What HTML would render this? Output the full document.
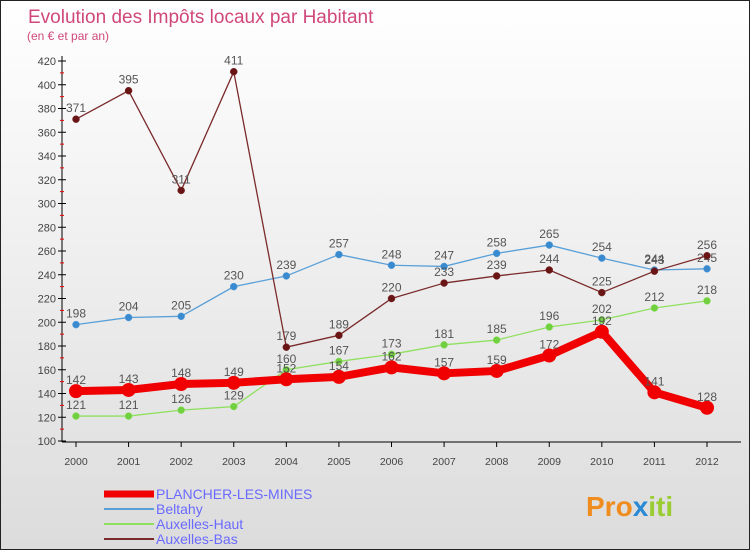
<!DOCTYPE html>
<html><head><meta charset="utf-8"><style>
body{margin:0}
#c{width:750px;height:550px;position:relative;overflow:hidden;box-sizing:border-box;border:1px solid #222;background:linear-gradient(#fff,#dcdcdc);font-family:"Liberation Sans",sans-serif}
svg{position:absolute;left:0;top:0}
</style></head><body>
<div id="c">
<svg id="s" width="750" height="550">
<text x="27" y="22" font-size="19" fill="#d0487a">Evolution des Impôts locaux par Habitant</text>
<text x="26" y="39" font-size="12" fill="#d0487a">(en € et par an)</text>
<text x="585" y="515" font-size="28" font-weight="bold" fill="#f08c1e">Pro<tspan fill="#2a8ad4">x</tspan><tspan fill="#9acd32">iti</tspan></text>
</svg>
</div>
<script>
const years=['2000','2001','2002','2003','2004','2005','2006','2007','2008','2009','2010','2011','2012'];
const yTicks=[100,120,140,160,180,200,220,240,260,280,300,320,340,360,380,400,420];
const plancher=[142,143,148,149,152,154,162,157,159,172,192,141,128];
const beltahy=[198,204,205,230,239,257,248,247,258,265,254,244,245];
const auxHaut=[121,121,126,129,160,167,173,181,185,196,202,212,218];
const auxBas=[371,395,311,411,179,189,220,233,239,244,225,243,256];
const NS='http://www.w3.org/2000/svg';
const svg=document.getElementById('s');
const X=i=>75+i*(706-75)/12;
const Y=v=>440-(v-100)*380/320;
function mk(t,a,p){const e=document.createElementNS(NS,t);for(const k in a)e.setAttribute(k,a[k]);(p||svg).appendChild(e);return e;}
let ax=mk('line',{x1:61,y1:55,x2:61,y2:441,stroke:'#000'});


let xa=mk('line',{x1:61,y1:441,x2:740,y2:441,stroke:'#000'});


yTicks.forEach(v=>{
  mk('line',{x1:57,y1:Y(v),x2:65,y2:Y(v),stroke:'#000'});
  if(v<420)mk('line',{x1:59,y1:Y(v+10),x2:63,y2:Y(v+10),stroke:'#e00'});
  const t=mk('text',{x:55,y:Y(v)+4,'font-size':11,'text-anchor':'end',fill:'#444'});t.textContent=v;
  
  
});
years.forEach((y,i)=>{
  mk('line',{x1:X(i),y1:441,x2:X(i),y2:446,stroke:'#000'});
  const t=mk('text',{x:X(i),y:464,'font-size':10.5,'text-anchor':'middle',fill:'#444'});t.textContent=y;
  
  
});
function series(d,col,dot,w,r,name){
  const g=mk('g',{});
  
  
  mk('polyline',{points:d.map((v,i)=>X(i)+','+Y(v)).join(' '),fill:'none',stroke:col,'stroke-width':w,'stroke-linejoin':'round'},g);
  d.forEach((v,i)=>{
    const c=mk('circle',{cx:X(i),cy:Y(v),r:r,fill:dot,stroke:col==dot?'none':col,'stroke-width':0.5},g);
    
    
    const t=mk('text',{x:X(i),y:Y(v)-7,'font-size':12,'text-anchor':'middle',fill:'#555'},g);t.textContent=v;
    
    
  });
}
series(auxHaut,'#90e060','#70d040',1.3,3.5,'series-auxelles-haut');
series(beltahy,'#5aa0d8','#3a8ad0',1.3,3.5,'series-beltahy');
series(auxBas,'#7a2a2a','#6a1515',1.3,3.5,'series-auxelles-bas');
series(plancher,'#f00000','#f00000',8,7,'series-plancher');
const leg=[['PLANCHER-LES-MINES','#f00000',7],['Beltahy','#5aa0d8',2],['Auxelles-Haut','#90e060',2],['Auxelles-Bas','#7a2a2a',2]];
leg.forEach((l,i)=>{
  const y=493+i*15;
  const ln=mk('line',{x1:103,y1:y,x2:153,y2:y,stroke:l[1],'stroke-width':l[2]});
  
  
  const t=mk('text',{x:155,y:y+5,'font-size':14,fill:'#6a6aff'});t.textContent=l[0];
  
  
});
</script>
</body></html>
